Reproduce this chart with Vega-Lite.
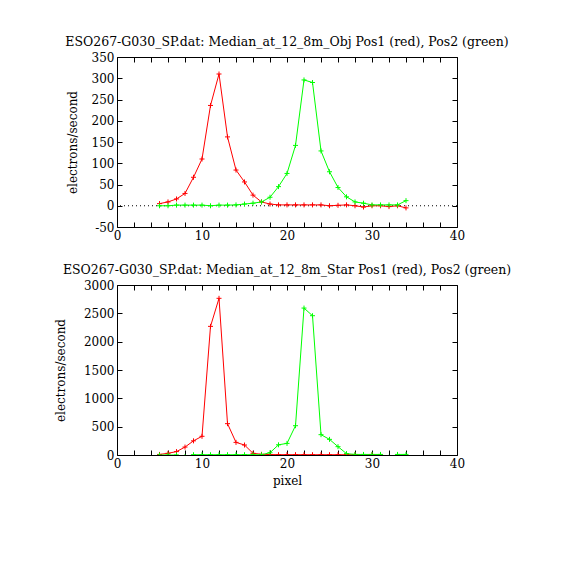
{
  "$schema": "https://vega.github.io/schema/vega-lite/v6.json",
  "background": "white",
  "padding": {"left": 53, "top": 35, "right": 5, "bottom": 5},
  "spacing": 21,
  "datasets": {
    "profiles": [
      {"panel": "Obj", "pos": "Pos1", "pixel": 5, "value": 5},
      {"panel": "Obj", "pos": "Pos1", "pixel": 6, "value": 9},
      {"panel": "Obj", "pos": "Pos1", "pixel": 7, "value": 16},
      {"panel": "Obj", "pos": "Pos1", "pixel": 8, "value": 29},
      {"panel": "Obj", "pos": "Pos1", "pixel": 9, "value": 67},
      {"panel": "Obj", "pos": "Pos1", "pixel": 10, "value": 110},
      {"panel": "Obj", "pos": "Pos1", "pixel": 11, "value": 236},
      {"panel": "Obj", "pos": "Pos1", "pixel": 12, "value": 310},
      {"panel": "Obj", "pos": "Pos1", "pixel": 13, "value": 162},
      {"panel": "Obj", "pos": "Pos1", "pixel": 14, "value": 84},
      {"panel": "Obj", "pos": "Pos1", "pixel": 15, "value": 56},
      {"panel": "Obj", "pos": "Pos1", "pixel": 16, "value": 25},
      {"panel": "Obj", "pos": "Pos1", "pixel": 17, "value": 9},
      {"panel": "Obj", "pos": "Pos1", "pixel": 18, "value": 4},
      {"panel": "Obj", "pos": "Pos1", "pixel": 19, "value": 2},
      {"panel": "Obj", "pos": "Pos1", "pixel": 20, "value": 2},
      {"panel": "Obj", "pos": "Pos1", "pixel": 21, "value": 2},
      {"panel": "Obj", "pos": "Pos1", "pixel": 22, "value": 2},
      {"panel": "Obj", "pos": "Pos1", "pixel": 23, "value": 2},
      {"panel": "Obj", "pos": "Pos1", "pixel": 24, "value": 2},
      {"panel": "Obj", "pos": "Pos1", "pixel": 25, "value": 0},
      {"panel": "Obj", "pos": "Pos1", "pixel": 26, "value": 1},
      {"panel": "Obj", "pos": "Pos1", "pixel": 27, "value": 2},
      {"panel": "Obj", "pos": "Pos1", "pixel": 28, "value": 0},
      {"panel": "Obj", "pos": "Pos1", "pixel": 29, "value": -3},
      {"panel": "Obj", "pos": "Pos1", "pixel": 30, "value": 0},
      {"panel": "Obj", "pos": "Pos1", "pixel": 31, "value": 0},
      {"panel": "Obj", "pos": "Pos1", "pixel": 32, "value": -2},
      {"panel": "Obj", "pos": "Pos1", "pixel": 33, "value": 0},
      {"panel": "Obj", "pos": "Pos1", "pixel": 34, "value": -5},
      {"panel": "Obj", "pos": "Pos2", "pixel": 5, "value": 0},
      {"panel": "Obj", "pos": "Pos2", "pixel": 6, "value": 0},
      {"panel": "Obj", "pos": "Pos2", "pixel": 7, "value": 1.5},
      {"panel": "Obj", "pos": "Pos2", "pixel": 8, "value": 1.5},
      {"panel": "Obj", "pos": "Pos2", "pixel": 9, "value": 1.5},
      {"panel": "Obj", "pos": "Pos2", "pixel": 10, "value": 1.5},
      {"panel": "Obj", "pos": "Pos2", "pixel": 11, "value": 0},
      {"panel": "Obj", "pos": "Pos2", "pixel": 12, "value": 1.5},
      {"panel": "Obj", "pos": "Pos2", "pixel": 13, "value": 1.5},
      {"panel": "Obj", "pos": "Pos2", "pixel": 14, "value": 2},
      {"panel": "Obj", "pos": "Pos2", "pixel": 15, "value": 4},
      {"panel": "Obj", "pos": "Pos2", "pixel": 16, "value": 6},
      {"panel": "Obj", "pos": "Pos2", "pixel": 17, "value": 9},
      {"panel": "Obj", "pos": "Pos2", "pixel": 18, "value": 20},
      {"panel": "Obj", "pos": "Pos2", "pixel": 19, "value": 45},
      {"panel": "Obj", "pos": "Pos2", "pixel": 20, "value": 76},
      {"panel": "Obj", "pos": "Pos2", "pixel": 21, "value": 142},
      {"panel": "Obj", "pos": "Pos2", "pixel": 22, "value": 296},
      {"panel": "Obj", "pos": "Pos2", "pixel": 23, "value": 290},
      {"panel": "Obj", "pos": "Pos2", "pixel": 24, "value": 129},
      {"panel": "Obj", "pos": "Pos2", "pixel": 25, "value": 80},
      {"panel": "Obj", "pos": "Pos2", "pixel": 26, "value": 43},
      {"panel": "Obj", "pos": "Pos2", "pixel": 27, "value": 21},
      {"panel": "Obj", "pos": "Pos2", "pixel": 28, "value": 9},
      {"panel": "Obj", "pos": "Pos2", "pixel": 29, "value": 6},
      {"panel": "Obj", "pos": "Pos2", "pixel": 30, "value": 2},
      {"panel": "Obj", "pos": "Pos2", "pixel": 31, "value": 2},
      {"panel": "Obj", "pos": "Pos2", "pixel": 32, "value": 2},
      {"panel": "Obj", "pos": "Pos2", "pixel": 33, "value": 2},
      {"panel": "Obj", "pos": "Pos2", "pixel": 34, "value": 12},
      {"panel": "Star", "pos": "Pos1", "pixel": 5, "value": 10},
      {"panel": "Star", "pos": "Pos1", "pixel": 6, "value": 30},
      {"panel": "Star", "pos": "Pos1", "pixel": 7, "value": 60},
      {"panel": "Star", "pos": "Pos1", "pixel": 8, "value": 140},
      {"panel": "Star", "pos": "Pos1", "pixel": 9, "value": 250},
      {"panel": "Star", "pos": "Pos1", "pixel": 10, "value": 330},
      {"panel": "Star", "pos": "Pos1", "pixel": 11, "value": 2270},
      {"panel": "Star", "pos": "Pos1", "pixel": 12, "value": 2765},
      {"panel": "Star", "pos": "Pos1", "pixel": 13, "value": 553},
      {"panel": "Star", "pos": "Pos1", "pixel": 14, "value": 223},
      {"panel": "Star", "pos": "Pos1", "pixel": 15, "value": 176},
      {"panel": "Star", "pos": "Pos1", "pixel": 16, "value": 30},
      {"panel": "Star", "pos": "Pos1", "pixel": 17, "value": 12},
      {"panel": "Star", "pos": "Pos1", "pixel": 18, "value": 8},
      {"panel": "Star", "pos": "Pos1", "pixel": 19, "value": 6},
      {"panel": "Star", "pos": "Pos1", "pixel": 20, "value": 6},
      {"panel": "Star", "pos": "Pos1", "pixel": 21, "value": 6},
      {"panel": "Star", "pos": "Pos1", "pixel": 22, "value": 5},
      {"panel": "Star", "pos": "Pos1", "pixel": 23, "value": 5},
      {"panel": "Star", "pos": "Pos1", "pixel": 24, "value": 5},
      {"panel": "Star", "pos": "Pos1", "pixel": 25, "value": 5},
      {"panel": "Star", "pos": "Pos1", "pixel": 26, "value": 5},
      {"panel": "Star", "pos": "Pos1", "pixel": 27, "value": 5},
      {"panel": "Star", "pos": "Pos1", "pixel": 28, "value": 5},
      {"panel": "Star", "pos": "Pos1", "pixel": 29, "value": 5},
      {"panel": "Star", "pos": "Pos1", "pixel": 30, "value": 5},
      {"panel": "Star", "pos": "Pos1", "pixel": 31, "value": 5},
      {"panel": "Star", "pos": "Pos2", "pixel": 5, "value": 0},
      {"panel": "Star", "pos": "Pos2", "pixel": 6, "value": 0},
      {"panel": "Star", "pos": "Pos2", "pixel": 7, "value": 0},
      {"panel": "Star", "pos": "Pos2", "pixel": 8, "value": -30},
      {"panel": "Star", "pos": "Pos2", "pixel": 9, "value": 5},
      {"panel": "Star", "pos": "Pos2", "pixel": 10, "value": 5},
      {"panel": "Star", "pos": "Pos2", "pixel": 11, "value": 5},
      {"panel": "Star", "pos": "Pos2", "pixel": 12, "value": 5},
      {"panel": "Star", "pos": "Pos2", "pixel": 13, "value": 5},
      {"panel": "Star", "pos": "Pos2", "pixel": 14, "value": 5},
      {"panel": "Star", "pos": "Pos2", "pixel": 15, "value": 5},
      {"panel": "Star", "pos": "Pos2", "pixel": 16, "value": 5},
      {"panel": "Star", "pos": "Pos2", "pixel": 17, "value": 5},
      {"panel": "Star", "pos": "Pos2", "pixel": 18, "value": 40},
      {"panel": "Star", "pos": "Pos2", "pixel": 19, "value": 180},
      {"panel": "Star", "pos": "Pos2", "pixel": 20, "value": 205},
      {"panel": "Star", "pos": "Pos2", "pixel": 21, "value": 517},
      {"panel": "Star", "pos": "Pos2", "pixel": 22, "value": 2593},
      {"panel": "Star", "pos": "Pos2", "pixel": 23, "value": 2458},
      {"panel": "Star", "pos": "Pos2", "pixel": 24, "value": 359},
      {"panel": "Star", "pos": "Pos2", "pixel": 25, "value": 276},
      {"panel": "Star", "pos": "Pos2", "pixel": 26, "value": 147},
      {"panel": "Star", "pos": "Pos2", "pixel": 27, "value": 24},
      {"panel": "Star", "pos": "Pos2", "pixel": 28, "value": 10},
      {"panel": "Star", "pos": "Pos2", "pixel": 29, "value": 10},
      {"panel": "Star", "pos": "Pos2", "pixel": 30, "value": 10},
      {"panel": "Star", "pos": "Pos2", "pixel": 31, "value": 10},
      {"panel": "Star", "pos": "Pos2", "pixel": 32, "value": -40},
      {"panel": "Star", "pos": "Pos2", "pixel": 33, "value": 10},
      {"panel": "Star", "pos": "Pos2", "pixel": 34, "value": 10}
    ],
    "zero": [{"value": 0}]
  },
  "vconcat": [
    {
      "width": 340,
      "height": 170,
      "title": {"text": "ESO267-G030_SP.dat: Median_at_12_8m_Obj Pos1 (red), Pos2 (green)"},
      "layer": [
        {
          "data": {"name": "zero"},
          "mark": {"type": "rule", "color": "black", "strokeDash": [1, 3], "strokeWidth": 1},
          "encoding": {
            "y": {"field": "value", "type": "quantitative", "scale": {"domain": [-50, 350]}, "axis": null}
          }
        },
        {
          "data": {"name": "profiles"},
          "transform": [{"filter": "datum.panel === 'Obj'"}],
          "mark": {"type": "line", "strokeWidth": 1, "clip": true},
          "encoding": {
            "x": {"field": "pixel", "type": "quantitative", "scale": {"domain": [0, 40], "nice": false},
              "axis": {"orient": "bottom", "title": null, "values": [0,2,4,6,8,10,12,14,16,18,20,22,24,26,28,30,32,34,36,38,40],
                "labelExpr": "datum.value % 10 === 0 ? datum.label : ''"}},
            "y": {"field": "value", "type": "quantitative", "scale": {"domain": [-50, 350], "nice": false},
              "axis": {"orient": "left", "title": "electrons/second", "titlePadding": 12, "values": [-50,0,50,100,150,200,250,300,350], "labelExpr": "toString(datum.value)"}},
            "color": {"field": "pos", "type": "nominal", "scale": {"domain": ["Pos1", "Pos2"], "range": ["#ff0000", "#00ff00"]}, "legend": null}
          }
        },
        {
          "data": {"name": "profiles"},
          "transform": [{"filter": "datum.panel === 'Obj'"}],
          "mark": {"type": "point", "shape": "M-1,0L1,0M0,-1L0,1", "size": 25, "strokeWidth": 1, "filled": false, "opacity": 1, "clip": true},
          "encoding": {
            "x": {"field": "pixel", "type": "quantitative",
              "axis": {"orient": "top", "title": null, "labels": false, "values": [0,2,4,6,8,10,12,14,16,18,20,22,24,26,28,30,32,34,36,38,40]}},
            "y": {"field": "value", "type": "quantitative",
              "axis": {"orient": "right", "title": null, "labels": false, "values": [-50,0,50,100,150,200,250,300,350]}},
            "color": {"field": "pos", "type": "nominal", "legend": null}
          }
        }
      ]
    },
    {
      "width": 340,
      "height": 170,
      "title": {"text": "ESO267-G030_SP.dat: Median_at_12_8m_Star Pos1 (red), Pos2 (green)"},
      "data": {"name": "profiles"},
      "transform": [{"filter": "datum.panel === 'Star'"}],
      "layer": [
        {
          "mark": {"type": "line", "strokeWidth": 1, "clip": true},
          "encoding": {
            "x": {"field": "pixel", "type": "quantitative", "scale": {"domain": [0, 40], "nice": false},
              "axis": {"orient": "bottom", "title": "pixel", "titlePadding": 6, "values": [0,2,4,6,8,10,12,14,16,18,20,22,24,26,28,30,32,34,36,38,40],
                "labelExpr": "datum.value % 10 === 0 ? datum.label : ''"}},
            "y": {"field": "value", "type": "quantitative", "scale": {"domain": [0, 3000], "nice": false},
              "axis": {"orient": "left", "title": "electrons/second", "titlePadding": 16, "values": [0,500,1000,1500,2000,2500,3000], "labelExpr": "toString(datum.value)"}},
            "color": {"field": "pos", "type": "nominal", "scale": {"domain": ["Pos1", "Pos2"], "range": ["#ff0000", "#00ff00"]}, "legend": null}
          }
        },
        {
          "mark": {"type": "point", "shape": "M-1,0L1,0M0,-1L0,1", "size": 25, "strokeWidth": 1, "filled": false, "opacity": 1, "clip": true},
          "encoding": {
            "x": {"field": "pixel", "type": "quantitative",
              "axis": {"orient": "top", "title": null, "labels": false, "values": [0,2,4,6,8,10,12,14,16,18,20,22,24,26,28,30,32,34,36,38,40]}},
            "y": {"field": "value", "type": "quantitative",
              "axis": {"orient": "right", "title": null, "labels": false, "values": [0,500,1000,1500,2000,2500,3000]}},
            "color": {"field": "pos", "type": "nominal", "legend": null}
          }
        }
      ]
    }
  ],
  "config": {
    "font": "DejaVu Serif",
    "view": {"stroke": "black", "strokeWidth": 1},
    "title": {"font": "DejaVu Serif", "fontSize": 12.5, "fontWeight": "normal", "color": "black", "anchor": "middle", "frame": "group", "offset": 3},
    "axis": {
      "grid": false,
      "domain": false,
      "tickColor": "black",
      "tickSize": -5,
      "tickWidth": 1,
      "labelFont": "DejaVu Serif",
      "labelFontSize": 12,
      "labelColor": "black",
      "labelFlush": false,
      "labelOverlap": false,
      "labelPadding": 8,
      "titleFont": "DejaVu Serif",
      "titleFontSize": 12,
      "titleFontWeight": "normal",
      "titleColor": "black",
      "titlePadding": 4
    }
  }
}
